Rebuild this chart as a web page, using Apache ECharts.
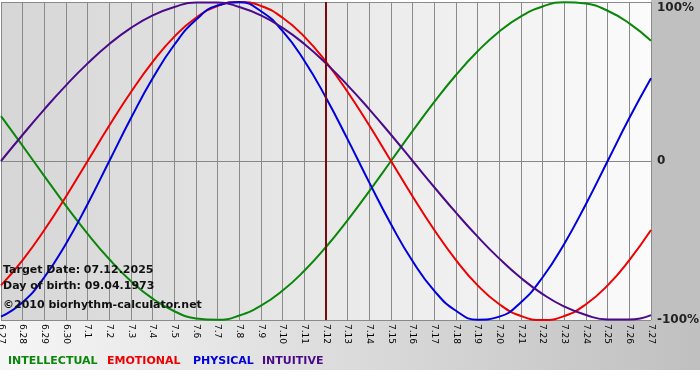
<!DOCTYPE html>
<html>
<head>
<meta charset="utf-8">
<script src="https://cdn.jsdelivr.net/npm/echarts@6/dist/echarts.min.js"></script>
<style>html,body{margin:0;padding:0;background:#fff}#c{width:700px;height:380px}</style>
</head>
<body>
<div id="c"></div>
<script>
var days = ['6.27','6.28','6.29','6.30','7.1','7.2','7.3','7.4','7.5','7.6','7.7','7.8','7.9','7.10','7.11','7.12','7.13','7.14','7.15','7.16','7.17','7.18','7.19','7.20','7.21','7.22','7.23','7.24','7.25','7.26','7.27'];
var intellectual = [28.2,9.5,-9.5,-28.2,-45.8,-61.8,-75.6,-86.6,-94.5,-99.0,-99.9,-97.2,-91.0,-81.5,-69.0,-54.1,-37.2,-18.9,0,18.9,37.2,54.1,69.0,81.5,91.0,97.2,99.9,99.0,94.5,86.6,75.6];
var emotional = [-78.2,-62.3,-43.4,-22.3,0,22.3,43.4,62.3,78.2,90.1,97.5,100,97.5,90.1,78.2,62.3,43.4,22.3,0,-22.3,-43.4,-62.3,-78.2,-90.1,-97.5,-100,-97.5,-90.1,-78.2,-62.3,-43.4];
var physical = [-97.9,-88.8,-73.1,-52.0,-27.0,0,27.0,52.0,73.1,88.8,97.9,99.8,94.2,81.7,63.1,39.8,13.6,-13.6,-39.8,-63.1,-81.7,-94.2,-99.8,-97.9,-88.8,-73.1,-52.0,-27.0,0,27.0,52.0];
var intuitive = [0,16.5,32.5,47.6,61.4,73.6,83.7,91.6,96.9,99.7,99.7,96.9,91.6,83.7,73.6,61.4,47.6,32.5,16.5,0,-16.5,-32.5,-47.6,-61.4,-73.6,-83.7,-91.6,-96.9,-99.7,-99.7,-96.9];
var yTicks = {'100':'100%','0':'0','-100':'-100%'};
var targetDay = '7.12';
var infoLines = ['Target Date: 07.12.2025','Day of birth: 09.04.1973','\u00a92010 biorhythm-calculator.net'];
var legendNames = ['INTELLECTUAL','EMOTIONAL','PHYSICAL','INTUITIVE'];
var colors = ['#0a870a','#ee0000','#0000dd','#4b0a8a'];

var chart = echarts.init(document.getElementById('c'));
function line(name, data, color, extra) {
  var s = {name:name,type:'line',data:data,smooth:true,symbol:'none',
    lineStyle:{color:color,width:2},itemStyle:{color:color},z:3};
  if (extra) for (var k in extra) s[k]=extra[k];
  return s;
}
var legendX = [8,107,193,262];
var graphics = [
  {type:'rect',shape:{x:0,y:321,width:700,height:49},silent:true,z:-10,
   style:{fill:new echarts.graphic.LinearGradient(0,0,1,0,[{offset:0,color:'#f6f6f6'},{offset:1,color:'#c0c0c0'}])}},
  {type:'rect',shape:{x:651,y:0,width:49,height:322},silent:true,z:-10,style:{fill:'#c0c0c0'}}
];
infoLines.forEach(function(t,i){
  graphics.push({type:'text',left:3,top:[265,281,300][i],z:10,
    style:{text:t,fill:'#111',font:'bold 11px "DejaVu Sans"'}});
});
legendNames.forEach(function(t,i){
  graphics.push({type:'text',left:legendX[i],top:356,z:10,
    style:{text:t,fill:colors[i],font:'bold 11px "DejaVu Sans"'}});
});
chart.setOption({
  animation:false,
  backgroundColor:'#ffffff',
  grid:{left:1,right:49,top:2,bottom:60,show:true,borderWidth:0,outerBoundsMode:'none',containLabel:false,
    backgroundColor:new echarts.graphic.LinearGradient(0,0,1,0,[{offset:0,color:'#d6d6d6'},{offset:1,color:'#fbfbfb'}])},
  xAxis:{type:'category',data:days,boundaryGap:false,
    axisLine:{show:true,lineStyle:{color:'#888',width:1}},
    axisTick:{show:true,length:3,lineStyle:{color:'#888'}},
    splitLine:{show:true,lineStyle:{color:'#8a8a8a',width:1}},
    axisLabel:{rotate:-90,margin:4,color:'#000',fontSize:9,fontFamily:'DejaVu Sans',interval:0}},
  yAxis:{type:'value',position:'right',min:-100,max:100,interval:100,
    axisLine:{show:false},axisTick:{show:false},
    splitLine:{show:true,lineStyle:{color:'#8a8a8a',width:1}},
    axisLabel:{margin:6,color:'#222',fontSize:12,fontWeight:'bold',fontFamily:'DejaVu Sans',
      verticalAlignMaxLabel:'top',
      formatter:function(v){return yTicks[String(v)];}}},
  graphic:graphics,
  series:[
    line(legendNames[0],intellectual,colors[0]),
    line(legendNames[1],emotional,colors[1]),
    line(legendNames[2],physical,colors[2]),
    line(legendNames[3],intuitive,colors[3],{markLine:{silent:true,symbol:'none',label:{show:false},
      lineStyle:{color:'#7a0a0a',width:2,type:'solid'},data:[{xAxis:targetDay}]}})
  ]
});
</script>
</body>
</html>
